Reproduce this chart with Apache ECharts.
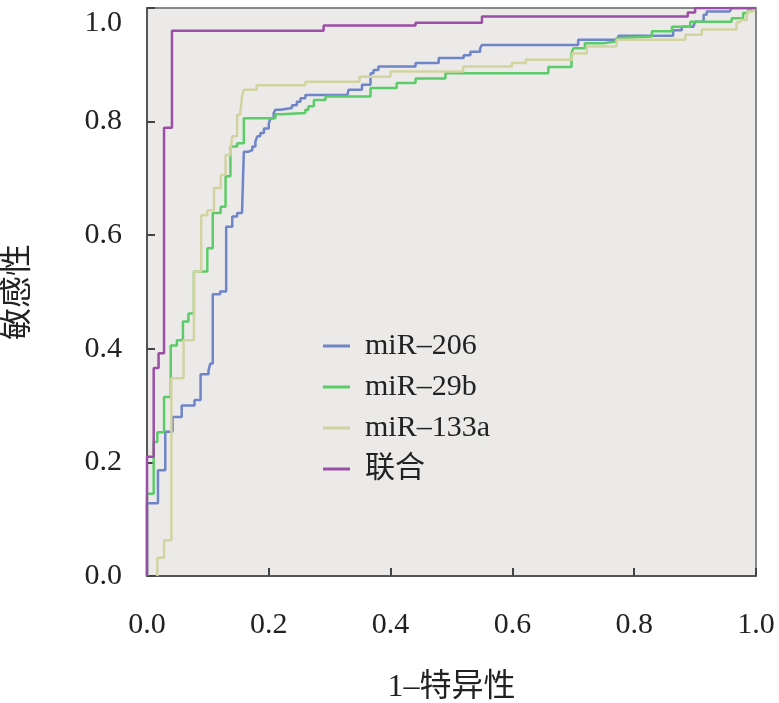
<!DOCTYPE html>
<html>
<head>
<meta charset="utf-8">
<script src="https://cdn.jsdelivr.net/npm/echarts@6/dist/echarts.min.js"></script>
<style>
  html, body { margin: 0; padding: 0; background: #fff; }
  #main { width: 779px; height: 703px; }
</style>
</head>
<body>
<div id="main"></div>
<script>
// ROC curves, step points: x = 1-特异性 where the curve rises, y = 敏感性 after the rise
var seriesNames = ['miR–206', 'miR–29b', 'miR–133a', '联合'];
var seriesColors = ['#6f84c9', '#5ccc68', '#d3d3a2', '#9a4ea6'];

var mir206X = [0, 0, 0.018, 0.030, 0.042, 0.057, 0.078, 0.088, 0.101, 0.104, 0.108, 0.120, 0.130, 0.140, 0.148, 0.156, 0.159, 0.167, 0.173, 0.178, 0.181, 0.186, 0.192, 0.200, 0.203, 0.208, 0.211, 0.219, 0.238, 0.246, 0.252, 0.260, 0.329, 0.331, 0.353, 0.367, 0.372, 0.380, 0.441, 0.479, 0.520, 0.531, 0.547, 0.550, 0.708, 0.774, 0.864, 0.878, 0.897, 0.900, 0.914, 0.919, 0.957, 0.960, 1];
var mir206Y = [0, 0.128, 0.186, 0.254, 0.280, 0.300, 0.310, 0.355, 0.362, 0.374, 0.496, 0.501, 0.615, 0.633, 0.639, 0.641, 0.747, 0.750, 0.756, 0.765, 0.774, 0.780, 0.788, 0.797, 0.806, 0.815, 0.821, 0.824, 0.829, 0.835, 0.841, 0.847, 0.850, 0.856, 0.865, 0.885, 0.891, 0.897, 0.903, 0.912, 0.917, 0.923, 0.929, 0.935, 0.944, 0.951, 0.961, 0.967, 0.970, 0.976, 0.988, 0.994, 0.997, 1, 1];

var mir29bX = [0, 0, 0.011, 0.017, 0.028, 0.039, 0.049, 0.059, 0.068, 0.077, 0.099, 0.108, 0.121, 0.129, 0.137, 0.148, 0.159, 0.211, 0.221, 0.260, 0.265, 0.274, 0.293, 0.367, 0.410, 0.441, 0.490, 0.659, 0.697, 0.700, 0.719, 0.749, 0.771, 0.777, 0.829, 0.862, 0.892, 0.960, 0.979, 0.987, 0.996, 1];
var mir29bY = [0, 0.145, 0.236, 0.253, 0.315, 0.406, 0.415, 0.448, 0.462, 0.536, 0.577, 0.639, 0.650, 0.704, 0.756, 0.762, 0.806, 0.813, 0.815, 0.821, 0.827, 0.838, 0.844, 0.859, 0.868, 0.876, 0.885, 0.896, 0.920, 0.929, 0.938, 0.941, 0.947, 0.950, 0.959, 0.967, 0.976, 0.982, 0.991, 0.997, 1, 1];

var mir133aX = [0.017, 0.017, 0.028, 0.040, 0.060, 0.077, 0.089, 0.099, 0.110, 0.121, 0.129, 0.137, 0.140, 0.148, 0.153, 0.156, 0.159, 0.180, 0.260, 0.349, 0.400, 0.519, 0.599, 0.622, 0.698, 0.722, 0.771, 0.884, 0.911, 0.968, 0.974, 0.985, 0.987, 0.996, 1];
var mir133aY = [0, 0.032, 0.063, 0.348, 0.415, 0.536, 0.635, 0.644, 0.683, 0.706, 0.741, 0.750, 0.774, 0.812, 0.815, 0.844, 0.856, 0.864, 0.870, 0.879, 0.888, 0.897, 0.903, 0.909, 0.920, 0.932, 0.944, 0.953, 0.962, 0.975, 0.979, 0.988, 0.994, 1, 1];

var unionX = [0, 0, 0.011, 0.019, 0.028, 0.041, 0.290, 0.441, 0.550, 0.888, 0.900, 1];
var unionY = [0, 0.210, 0.366, 0.392, 0.789, 0.960, 0.969, 0.974, 0.985, 0.992, 1, 1];

var tickLabels = ['0.0', '0.2', '0.4', '0.6', '0.8', '1.0'];

function zip(xs, ys) {
  return xs.map(function (x, i) { return [x, ys[i]]; });
}

var curves = [zip(mir206X, mir206Y), zip(mir29bX, mir29bY), zip(mir133aX, mir133aY), zip(unionX, unionY)];

var serifFont = '"Liberation Serif", "Times New Roman", "Noto Sans CJK SC", serif';

var myChart = echarts.init(document.getElementById('main'));
var option = {
  backgroundColor: '#ffffff',
  animation: false,
  grid: {
    left: 147,
    top: 8,
    width: 609,
    height: 568,
    outerBoundsMode: 'none',
    containLabel: false,
    show: true,
    backgroundColor: '#ebeae8',
    borderColor: '#666',
    borderWidth: 1.5
  },
  legend: {
    orient: 'vertical',
    left: 318,
    top: 326,
    itemGap: 11,
    itemWidth: 27,
    itemHeight: 3,
    icon: 'rect',
    data: seriesNames,
    textStyle: { fontFamily: serifFont, fontSize: 30, color: '#222', padding: [0, 0, 0, 10] }
  },
  xAxis: {
    type: 'value',
    min: 0,
    max: 1,
    interval: 0.2,
    name: '1–特异性',
    nameLocation: 'middle',
    nameGap: 96,
    nameTextStyle: { fontFamily: serifFont, fontSize: 32, color: '#222' },
    axisLine: { show: true, lineStyle: { color: '#555', width: 2 } },
    axisTick: { show: true, inside: true, length: 8, lineStyle: { color: '#444', width: 2 } },
    axisLabel: {
      margin: 34,
      fontFamily: serifFont,
      fontSize: 30,
      color: '#222',
      formatter: function (v) { return tickLabels[Math.round(v * 5)]; }
    },
    splitLine: { show: false }
  },
  yAxis: {
    type: 'value',
    min: 0,
    max: 1,
    interval: 0.2,
    name: '敏感性',
    nameLocation: 'middle',
    nameGap: 112,
    nameRotate: 90,
    nameTextStyle: { fontFamily: serifFont, fontSize: 32, color: '#222' },
    axisLine: { show: true, lineStyle: { color: '#555', width: 2 } },
    axisTick: { show: true, inside: true, length: 8, lineStyle: { color: '#444', width: 2 } },
    axisLabel: {
      margin: 25,
      fontFamily: serifFont,
      fontSize: 30,
      color: '#222',
      verticalAlignMaxLabel: 'top',
      formatter: function (v) { return tickLabels[Math.round(v * 5)]; }
    },
    splitLine: { show: false }
  },
  series: seriesNames.map(function (name, i) {
    return {
      name: name,
      type: 'line',
      step: 'end',
      showSymbol: false,
      symbol: 'none',
      color: seriesColors[i],
      lineStyle: { width: 2.5, color: seriesColors[i] },
      data: curves[i],
      z: 2 + i
    };
  })
};
myChart.setOption(option);
</script>
</body>
</html>
